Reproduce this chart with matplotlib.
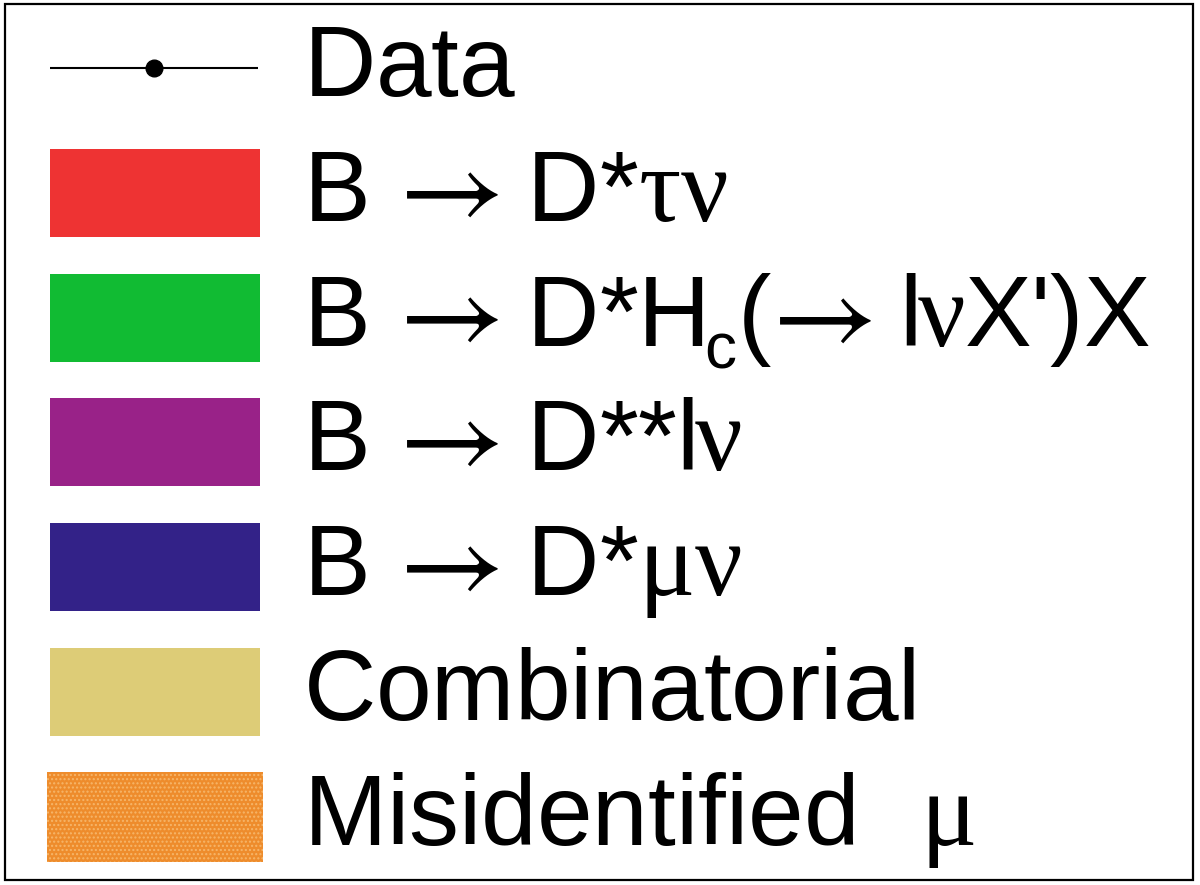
import matplotlib
matplotlib.use("Agg")
import matplotlib.pyplot as plt
from matplotlib.patches import Rectangle

plt.rcParams['mathtext.fontset'] = 'custom'
plt.rcParams['mathtext.rm'] = 'Liberation Sans'
plt.rcParams['mathtext.it'] = 'Liberation Serif'
plt.rcParams['mathtext.bf'] = 'Liberation Sans:bold'
plt.rcParams['mathtext.cal'] = 'STIXGeneral'
plt.rcParams['font.family'] = ['Liberation Sans', 'DejaVu Sans']

# Legend entries: each label is a sequence of (text, kind) pieces
# kind: 'txt' plain sans text, 'arr' arrow, 'grk' greek letters, 'sub' subscript
labels = [
    [("Data", "txt")],
    [("B", "txt"), (" →", "arr"), (" D*", "txt"), (r"\tau\nu", "grk")],
    [("B", "txt"), (" →", "arr"), (" D*H", "txt"), ("c", "sub"), ("(", "txt"), ("→", "arr"),
     (" l", "txt"), (r"\nu", "grk"), ("X')X", "txt")],
    [("B", "txt"), (" →", "arr"), (" D**l", "txt"), (r"\nu", "grk")],
    [("B", "txt"), (" →", "arr"), (" D*", "txt"), (r"\mu\nu", "grk")],
    [("Combinatorial", "txt")],
    [("Misidentified", "txt"), (r" \mu", "grk")],
]
kinds = ["data", "fill", "fill", "fill", "fill", "fill", "hatch"]
colors = ["black", "#EE3333", "#11BB33", "#992288", "#332288", "#DDCC77", "#EE8C2C"]

# text style per piece kind: (fontsize in pt, baseline shift in px (down), gap in em of 'm')
STYLE = {"txt": (72, 0, 0), "arr": (83, 3, 0.1), "grk": (76, 0, 0.45), "sub": (46, 22, 0.15)}


def piece_string(s, kind):
    lead = s[:len(s) - len(s.lstrip())]
    core = s.strip()
    gap = STYLE[kind][2]
    if kind == "txt":
        return s + r"$\hspace{0}$"
    if kind == "arr":
        trail = r"\hspace{%g}" % gap if lead else ""
        return lead + r"$\mathcal{" + core + "}" + trail + "$"
    if kind == "sub":
        return lead + r"$\mathrm{" + core + r"}\hspace{%g}$" % gap
    pre = r"\hspace{%g}" % gap if lead else ""
    return lead + "$" + pre + core + "$"


fig = plt.figure(figsize=(12, 8.85), dpi=100)
ax = fig.add_axes([0, 0, 1, 1])
ax.set_xlim(0, 1200)
ax.set_ylim(885, 0)
ax.axis('off')
renderer = fig.canvas.get_renderer()

# frame
ax.add_patch(Rectangle((5, 4), 1188, 876, fill=False, edgecolor='black', linewidth=1.6))

row0 = 68
dy = 124.8
for i, (lab, kind, col) in enumerate(zip(labels, kinds, colors)):
    yc = row0 + i * dy
    if kind == "data":
        ax.plot([50, 258], [yc, yc], color=col, linewidth=1.5, solid_capstyle='butt')
        ax.plot([154], [yc], 'o', color=col, markersize=12)
    elif kind == "fill":
        ax.add_patch(Rectangle((50, yc - 44), 210, 88, facecolor=col, edgecolor='none'))
    else:
        ax.add_patch(Rectangle((47, yc - 45), 216, 90, facecolor=col, edgecolor='#F6B66A',
                               hatch='....', linewidth=0))
    x = 303
    base = yc + 28
    for s, k in lab:
        size, shift, _ = STYLE[k]
        t = ax.text(x, base + shift, piece_string(s, k), fontsize=size,
                    va='baseline', ha='left', color='black')
        x += t.get_window_extent(renderer).width

fig.savefig("out.png", dpi=100)
